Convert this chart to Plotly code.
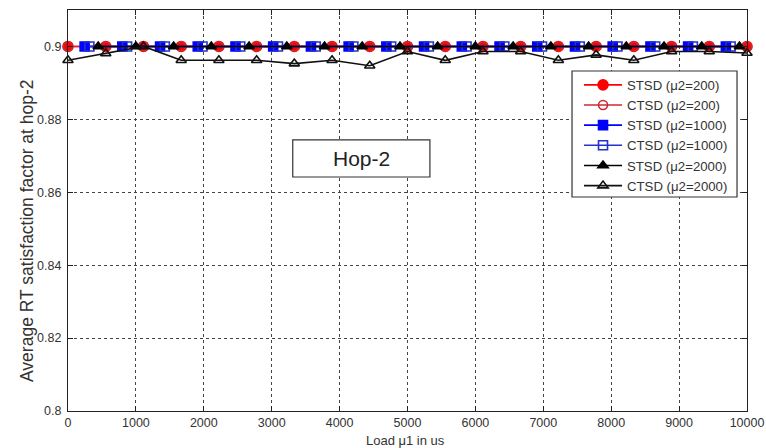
import plotly.graph_objects as go

# Load u1 sample points (us) for each series
x_red = [0, 556, 1111, 1667, 2222, 2778, 3333, 3889, 4444, 5000,
         5556, 6111, 6667, 7222, 7778, 8333, 8889, 9444, 10000]
x_blue_s = [245, 800, 1356, 1911, 2467, 3022, 3578, 4133, 4689,
            5244, 5800, 6356, 6911, 7467, 8022, 8578, 9133, 9689]
x_blue_c = [315, 870, 1426, 1981, 2537, 3092, 3648, 4203, 4759,
            5314, 5870, 6426, 6981, 7537, 8092, 8648, 9203, 9759]
x_black_s = [445, 1000, 1556, 2111, 2667, 3222, 3778, 4333, 4889,
             5444, 6000, 6556, 7111, 7667, 8222, 8778, 9333, 9889]
x_black_c = x_red

# Average RT satisfaction factor at hop-2
y_stsd_200 = [0.9] * 19
y_ctsd_200 = [0.9] * 19
y_stsd_1000 = [0.9] * 18
y_ctsd_1000 = [0.9] * 18
y_stsd_2000 = [0.9] * 18
y_ctsd_2000 = [0.8962, 0.8981, 0.9, 0.8962, 0.8962, 0.8962, 0.8953, 0.8962,
               0.8947, 0.8986, 0.8962, 0.8986, 0.8986, 0.8962, 0.8977, 0.8962,
               0.8986, 0.8986, 0.8982]

y_ticks = [0.8, 0.82, 0.84, 0.86, 0.88, 0.9]
y_tick_text = ["0.8", "0.82", "0.84", "0.86", "0.88", "0.9"]
x_ticks = [0, 1000, 2000, 3000, 4000, 5000, 6000, 7000, 8000, 9000, 10000]
x_tick_text = ["0", "1000", "2000", "3000", "4000", "5000",
               "6000", "7000", "8000", "9000", "10000"]

series = [
    ("STSD (μ2=200)", x_red, y_stsd_200, "#ff0000", "circle", 10),
    ("CTSD (μ2=200)", x_red, y_ctsd_200, "#cc2a30", "circle-open", 9),
    ("STSD (μ2=1000)", x_blue_s, y_stsd_1000, "#0000ff", "square", 9),
    ("CTSD (μ2=1000)", x_blue_c, y_ctsd_1000, "#2233cc", "square-open", 9),
    ("STSD (μ2=2000)", x_black_s, y_stsd_2000, "#000000", "triangle-up", 9),
    ("CTSD (μ2=2000)", x_black_c, y_ctsd_2000, "#111111", "triangle-up-open", 9),
]

fig = go.Figure()
for name, xs, ys, color, symbol, size in series:
    fig.add_trace(go.Scatter(
        x=xs, y=ys, name=name, mode="lines+markers",
        line=dict(color=color, width=1.6),
        marker=dict(symbol=symbol, size=size, color=color,
                    line=dict(color=color, width=1.6)),
        cliponaxis=False,
    ))

font_family = "Liberation Sans, Arial, sans-serif"
axis_common = dict(
    showline=True, linecolor="#222", linewidth=1.2, mirror="ticks",
    ticks="inside", ticklen=5, tickcolor="#222",
    showgrid=True, gridcolor="#444", griddash="dot", gridwidth=1,
    zeroline=False, automargin=False,
    tickfont=dict(family=font_family, size=12.5, color="#333"),
)

fig.update_layout(
    width=766, height=448,
    margin=dict(l=68, r=19, t=10, b=37),
    paper_bgcolor="white", plot_bgcolor="white",
    showlegend=True,
    legend=dict(
        x=0.7526, y=0.851, xanchor="left", yanchor="top",
        bgcolor="rgba(0,0,0,0)", borderwidth=0,
        font=dict(family=font_family, size=13.2, color="#333"),
        tracegroupgap=0, itemwidth=38,
    ),
    xaxis=dict(axis_common, range=[0, 10000], tickvals=x_ticks,
               ticktext=x_tick_text),
    yaxis=dict(axis_common, range=[0.8, 0.91], tickvals=y_ticks,
               ticktext=y_tick_text, ticklabelstandoff=3),
    shapes=[
        # "Hop-2" label frame
        dict(type="rect", xref="paper", yref="paper",
             x0=0.331, x1=0.533, y0=0.5835, y1=0.676,
             line=dict(color="#333", width=1.2), fillcolor="white",
             layer="above"),
        # legend frame
        dict(type="rect", xref="paper", yref="paper",
             x0=0.7423, x1=0.9853, y0=0.5337, y1=0.8479,
             line=dict(color="#333", width=1.2), fillcolor="white",
             layer="above"),
    ],
    annotations=[
        dict(text="Hop-2", xref="paper", yref="paper",
             x=0.432, y=0.63, showarrow=False,
             font=dict(family=font_family, size=21, color="#222")),
        dict(text="Average RT satisfaction factor at hop-2",
             xref="paper", yref="paper", x=(27 - 68) / 679, y=(411 - 231) / 401,
             xanchor="center", yanchor="middle", textangle=-90,
             showarrow=False,
             font=dict(family=font_family, size=17.5, color="#333")),
        dict(text="Load μ1 in us", xref="paper", yref="paper",
             x=(405 - 68) / 679, y=(411 - 440) / 401,
             xanchor="center", yanchor="middle", showarrow=False,
             font=dict(family=font_family, size=13, color="#333")),
    ],
)

fig.write_html("out.html")
